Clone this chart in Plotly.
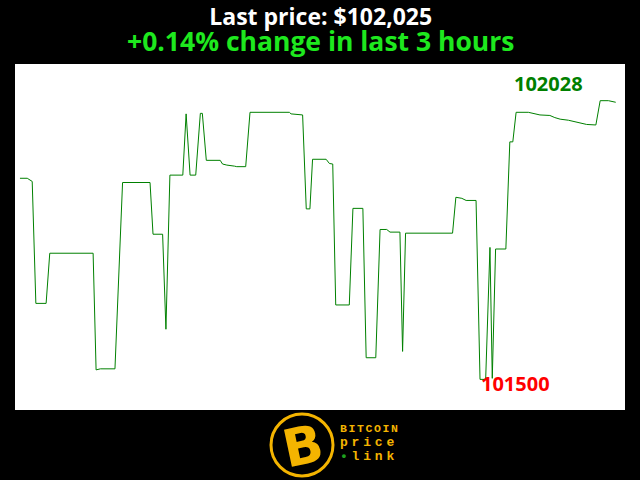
import plotly.graph_objects as go

# time in minutes over the last 3 hours, and BTC price in USD
minutes = [0, 2.2, 3.7, 4.8, 7.9, 9.0, 22.1, 23.0, 24.3, 28.7, 31.0, 39.3, 40.2, 43.1, 44.1,
           45.3, 49.2, 50.2, 51.4, 53.1, 54.5, 55.1, 56.3, 60.5, 61.2, 62.5, 64.8, 65.5, 68.2,
           69.5, 81.4, 81.9, 85.4, 86.5, 87.6, 88.4, 92.5, 93.5, 94.5, 95.4, 99.5, 100.6, 103.6,
           104.6, 107.5, 108.8, 110.8, 111.8, 114.8, 115.6, 116.5, 130.7, 131.7, 133.5, 134.8,
           137.8, 139.0, 140.7, 142.0, 142.7, 143.7, 146.8, 148.0, 148.9, 149.9, 153.6, 157.1,
           160.1, 161.6, 163.2, 165.7, 167.2, 169.2, 171.2, 174.0, 175.3, 177.8, 180.0]
prices = [101881, 101881, 101875, 101644, 101644, 101739, 101739, 101518, 101520, 101520,
          101873, 101873, 101775, 101775, 101595, 101887, 101887, 102003, 101887, 101887,
          102004, 102004, 101915, 101915, 101908, 101906, 101904, 101903, 101903, 102006,
          102006, 102003, 102001, 101823, 101823, 101917, 101917, 101909, 101908, 101641,
          101641, 101824, 101824, 101541, 101541, 101784, 101784, 101779, 101779, 101553,
          101777, 101777, 101845, 101843, 101839, 101839, 101500, 101500, 101750, 101502,
          101747, 101747, 101950, 101950, 102006, 102006, 102001, 102000, 101996, 101993,
          101991, 101989, 101986, 101983, 101982, 102028, 102028, 102025]

title_line1 = "Last price: $102,025"
title_line2 = "+0.14% change in last 3 hours"
max_label = "102028"
min_label = "101500"
logo_lines = ["BITCOIN", "price", "link"]

max_price = max(prices)
min_price = min(prices)
t_max = minutes[prices.index(max_price)]
t_min = minutes[prices.index(min_price)]

W, H = 640, 480
ML, MR, MT, MB = 15, 15, 64, 70
PW, PH = W - ML - MR, H - MT - MB


def px(x):
    return (x - ML) / PW


def py(y):
    return (H - MB - y) / PH


fig = go.Figure()
fig.add_trace(go.Scatter(x=minutes, y=prices, mode="lines",
                         line=dict(color="#008000", width=1), hoverinfo="skip"))

fig.update_layout(
    width=W, height=H,
    paper_bgcolor="black", plot_bgcolor="white",
    margin=dict(l=ML, r=MR, t=MT, b=MB),
    showlegend=False,
    xaxis=dict(range=[-1.5, 182.8], visible=False, fixedrange=True),
    yaxis=dict(range=[101442, 102097.5], visible=False, fixedrange=True),
)

gold = "#f4b400"
title_text = (f"<span style='font-size:23px;color:white'><b>{title_line1}</b></span><br>"
              f"<span style='font-size:26.5px;color:#1ee81e'><b>{title_line2}</b></span>")
logo_text = (f"<span style='font-size:11.5px;letter-spacing:1.6px'><b>{logo_lines[0]}</b></span><br>"
             f"<span style='font-size:13px;letter-spacing:3.8px'><b>{logo_lines[1]}</b></span><br>"
             f"<span style='font-size:13px;letter-spacing:3.8px'><b><span style='color:#1ea01e'>•</span>{logo_lines[2]}</b></span>")

annotations = [
    dict(text=title_text, xref="paper", yref="paper", x=0.5, y=py(29),
         showarrow=False, font=dict(family="Open Sans", size=20, color="white"),
         yanchor="middle", align="center"),
    dict(text=f"<b>{max_label}</b>", x=t_max, y=max_price, xshift=-52, yshift=17, showarrow=False,
         font=dict(family="Open Sans", size=20, color="#008000"), yanchor="middle"),
    dict(text=f"<b>{min_label}</b>", x=t_min, y=min_price, xanchor="left", xshift=-1, yshift=-4,
         showarrow=False, font=dict(family="Open Sans", size=20, color="#ff0000"), yanchor="middle"),
    # logo
    dict(text="<b>B</b>", xref="paper", yref="paper", x=px(303), y=py(446),
         showarrow=False, textangle=-12, font=dict(family="DejaVu Sans", size=52, color=gold),
         yanchor="middle", xanchor="center"),
    dict(text=logo_text, xref="paper", yref="paper", x=px(338), y=py(443),
         showarrow=False, font=dict(family="Liberation Mono", size=10.8, color=gold),
         yanchor="middle", xanchor="left", align="left"),
]
fig.update_layout(annotations=annotations)

fig.add_shape(type="circle", xref="paper", yref="paper",
              x0=px(271), x1=px(333), y0=py(476), y1=py(414),
              line=dict(color=gold, width=3), fillcolor="black", layer="below")

fig.write_html("out.html", config={"displayModeBar": False},
               post_script="document.body.style.margin='0';")
